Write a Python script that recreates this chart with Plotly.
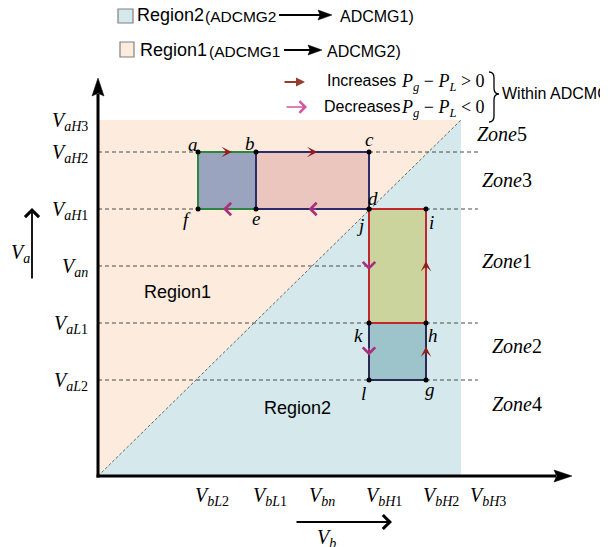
import math
import plotly.graph_objects as go

# ---------------- data ----------------
vb_names = ["bL2", "bL1", "bn", "bH1", "bH2", "bH3"]
vb_values = [100, 158, 214, 271, 328, 363]
va_names = ["aL2", "aL1", "an", "aH1", "aH2", "aH3"]
va_values = [96, 153, 210, 267, 324, 356]

point_names = ["a", "b", "c", "d", "e", "f", "i", "j", "k", "h", "g", "l"]
point_vb = ["bL2", "bL1", "bH1", "bH1", "bL1", "bL2", "bH2", "bH1", "bH1", "bH2", "bH2", "bH1"]
point_va = ["aH2", "aH2", "aH2", "aH1", "aH1", "aH1", "aH1", "aH1", "aL1", "aL1", "aL2", "aL2"]

rect_vertices = [["a", "b", "e", "f"], ["b", "c", "d", "e"], ["k", "h", "g", "l"], ["j", "i", "h", "k"]]
rect_fill = ["#9BA4BE", "#EBC6BE", "#9DC4CA", "#CAD49C"]
rect_edge = ["#2E8540", "#2B2C6B", "#2B2A55", "#C1272D"]

edge_arrows = [("a", "b", "inc"), ("b", "c", "inc"), ("e", "f", "dec"), ("d", "e", "dec"),
               ("j", "k", "dec"), ("h", "i", "inc"), ("k", "l", "dec"), ("g", "h", "inc")]

hline_segments = [("aH2", None, "bL2"), ("aH2", "bH1", "end"), ("aH1", None, "bL2"),
                  ("aH1", "bH2", "end"), ("an", None, "bH1"), ("aL1", None, "bH1"),
                  ("aL1", "bH2", "end"), ("aL2", None, "bH1"), ("aL2", "bH2", "end")]

zone_names = ["Zone5", "Zone3", "Zone1", "Zone2", "Zone4"]

# ---------------- helpers ----------------
VB = dict(zip(vb_names, vb_values))
VA = dict(zip(va_names, va_values))
PT = {n: (VB[b], VA[a]) for n, b, a in zip(point_names, point_vb, point_va)}

W, H = 608, 547
OFF = 8                   # page body margin in the browser
X0, Y0 = 98, 476          # window position of the origin


def px(x):
    return x - X0


def py(y):
    return Y0 - y


SERIF = "Liberation Serif"
SANS = "Liberation Sans"
PEACH = "#FDEBDD"
LBLUE = "#D5E8EC"
RED = "#931E1E"
MAG = "#A8307E"

fig = go.Figure()

vbmax, vamax = VB["bH3"], VA["aH3"]
fig.add_trace(go.Scatter(x=[0, 0, vbmax, 0], y=[0, vamax, vamax, 0], fill="toself",
                         fillcolor=PEACH, line=dict(width=0), mode="lines", hoverinfo="skip"))
fig.add_trace(go.Scatter(x=[0, vbmax, vbmax, 0], y=[0, 0, vamax, 0], fill="toself",
                         fillcolor=LBLUE, line=dict(width=0), mode="lines", hoverinfo="skip"))
fig.add_trace(go.Scatter(x=[0, vbmax], y=[0, vamax], mode="lines",
                         line=dict(color="#666", width=1, dash="3px,2px"), hoverinfo="skip"))

xs, ys = [], []
dash_end = vbmax + 17
for lev, s, e in hline_segments:
    xs += [0 if s is None else VB[s], dash_end if e == "end" else VB[e], None]
    ys += [VA[lev], VA[lev], None]
fig.add_trace(go.Scatter(x=xs, y=ys, mode="lines",
                         line=dict(color="#4A4A4A", width=1, dash="4px,3px"), hoverinfo="skip"))

for verts, fc in zip(rect_vertices, rect_fill):
    fig.add_trace(go.Scatter(x=[PT[v][0] for v in verts] + [PT[verts[0]][0]],
                             y=[PT[v][1] for v in verts] + [PT[verts[0]][1]],
                             fill="toself", fillcolor=fc, mode="lines",
                             line=dict(width=0), hoverinfo="skip"))
for verts, ec in zip(rect_vertices, rect_edge):
    fig.add_trace(go.Scatter(x=[PT[v][0] for v in verts] + [PT[verts[0]][0]],
                             y=[PT[v][1] for v in verts] + [PT[verts[0]][1]],
                             mode="lines", line=dict(color=ec, width=2), hoverinfo="skip"))

fig.add_trace(go.Scatter(x=[PT[n][0] for n in point_names], y=[PT[n][1] for n in point_names],
                         mode="markers", marker=dict(color="black", size=5), hoverinfo="skip"))

shapes = []
annotations = []


def black_arrow(x0, y0, x1, y1, hl, hw, lw):
    dx, dy = x1 - x0, y1 - y0
    L = math.hypot(dx, dy)
    ux, uy = dx / L, dy / L
    bx, by = x1 - ux * hl, y1 - uy * hl
    nx, ny = -uy, ux
    shapes.append(dict(type="line", xref="x", yref="y", x0=x0, y0=y0,
                       x1=bx + ux * 2, y1=by + uy * 2, line=dict(color="black", width=lw)))
    path = (f"M{x1},{y1} L{bx + nx * hw},{by + ny * hw} L{bx + ux * hl * 0.15},{by + uy * hl * 0.15} "
            f"L{bx - nx * hw},{by - ny * hw} Z")
    shapes.append(dict(type="path", xref="x", yref="y", path=path, fillcolor="black",
                       line=dict(color="black", width=0.5)))


# axes
black_arrow(-1.5, 0, px(572), 0, 18, 6, 3)
black_arrow(0, -1.5, 0, py(78), 18, 6, 3)

# legend
shapes.append(dict(type="rect", xref="x", yref="y", x0=px(118), x1=px(133), y0=py(9), y1=py(23),
                   fillcolor=LBLUE, line=dict(color="#808080", width=1.2)))
shapes.append(dict(type="rect", xref="x", yref="y", x0=px(120), x1=px(134), y0=py(42), y1=py(57),
                   fillcolor=PEACH, line=dict(color="#808080", width=1.2)))
black_arrow(px(279), py(15), px(332), py(15), 14, 5, 2)
black_arrow(px(284), py(50), px(322), py(50), 14, 5, 2)

# curly brace "}" grouping the two legend rows
bx0, bxm, bxc = px(489), px(494), px(499)
shapes.append(dict(type="path", xref="x", yref="y", line=dict(color="black", width=1.3),
                   path=(f"M{bx0},{py(72)} Q{bxm},{py(72)} {bxm},{py(78)} L{bxm},{py(88)} "
                         f"Q{bxm},{py(94)} {bxc},{py(94)} Q{bxm},{py(94)} {bxm},{py(100)} "
                         f"L{bxm},{py(116)} Q{bxm},{py(122)} {bx0},{py(122)}")))


def txt(x, y, text, size, family, xanchor="center", color="black", yanchor="middle", **kw):
    annotations.append(dict(x=x, y=y, xref="x", yref="y", text=text, showarrow=False,
                            xanchor=xanchor, yanchor=yanchor,
                            font=dict(size=size, family=family, color=color), **kw))


txt(px(135), py(15), "Region2", 18, SANS, "left")
txt(px(203), py(16), "(ADCMG2", 15.5, SANS, "left")
txt(px(338), py(16), "ADCMG1)", 16, SANS, "left")
txt(px(138), py(50), "Region1", 18, SANS, "left")
txt(px(207), py(51), "(ADCMG1", 15.5, SANS, "left")
txt(px(325), py(51), "ADCMG2)", 16, SANS, "left")

annotations.append(dict(x=px(305), y=py(82), xref="x", yref="y", ax=-22, ay=0, text="",
                        showarrow=True, arrowhead=2, arrowsize=0.9, arrowwidth=2,
                        arrowcolor="#993A30", standoff=0))
annotations.append(dict(x=px(307), y=py(107), xref="x", yref="y", ax=-22, ay=0, text="",
                        showarrow=True, arrowhead=4, arrowsize=1.6, arrowwidth=1.4,
                        arrowcolor="#D4559F", standoff=0))
txt(px(325), py(80), "Increases", 16, SANS, "left")
txt(px(322), py(106), "Decreases", 16, SANS, "left")
txt(px(399), py(82), "<i>P</i><sub><i>g</i></sub> − <i>P</i><sub><i>L</i></sub> &gt; 0", 18, SERIF, "left")
txt(px(399), py(108), "<i>P</i><sub><i>g</i></sub> − <i>P</i><sub><i>L</i></sub> &lt; 0", 18, SERIF, "left")
txt(px(500), py(93), "Within ADCMG", 16, SANS, "left")


def vlabel(sub):
    letters = "".join(c for c in sub if not c.isdigit())
    digits = "".join(c for c in sub if c.isdigit())
    return f"<i>V</i><sub><i>{letters}</i>{digits}</sub>"


# tick labels
for n, v in zip(va_names, va_values):
    txt(-8, v - 1, vlabel(n), 20, SERIF, "right")
for n, v in zip(vb_names, vb_values):
    shift = 7 if n == "bH3" else -5
    txt(v + shift, py(496), vlabel(n), 20, SERIF, "left")

# axis name arrows
annotations.append(dict(x=px(32), y=py(208), xref="x", yref="y", ax=0, ay=72, text="",
                        showarrow=True, arrowhead=4, arrowsize=1.5, arrowwidth=1.8,
                        arrowcolor="black", standoff=0))
annotations.append(dict(x=px(392), y=py(522), xref="x", yref="y", ax=-97, ay=0, text="",
                        showarrow=True, arrowhead=4, arrowsize=1.5, arrowwidth=1.8,
                        arrowcolor="black", standoff=0))
txt(px(20), py(253), "<i>V</i><sub><i>a</i></sub>", 20, SERIF, "center")
txt(px(326), py(538), "<i>V</i><sub><i>b</i></sub>", 20, SERIF, "center")

# zones
zone_pos = [(475, 134), (480, 180), (480, 261), (490, 346), (490, 404)]
for z, (zx, zy) in zip(zone_names, zone_pos):
    txt(px(zx), py(zy), f"<i>{z[:4]}</i>{z[4:]}", 20, SERIF, "left")

# region labels
txt(px(177), py(292), "Region1", 18, SANS)
txt(px(297), py(408), "Region2", 18, SANS)

# point labels (pixel offsets)
label_off = {"a": (-5, -8), "b": (-6, -9), "c": (0, -13), "d": (4, -11), "e": (0, 9),
             "f": (-11, 10), "i": (5, 13), "j": (-9, 16), "k": (-11, 12), "h": (7, 12),
             "l": (-6, 13), "g": (4, 9)}
for n in point_names:
    ox, oy = label_off[n]
    txt(PT[n][0], PT[n][1], f"<i>{n}</i>", 19, SERIF, "center", xshift=ox, yshift=-oy)

# edge arrows
for p, q, kind in edge_arrows:
    (x0, y0), (x1, y1) = PT[p], PT[q]
    L = math.hypot(x1 - x0, y1 - y0)
    ux, uy = (x1 - x0) / L, (y1 - y0) / L
    mx, my = (x0 + x1) / 2, (y0 + y1) / 2
    tip = 5 if kind == "inc" else 4
    annotations.append(dict(x=mx + ux * tip, y=my + uy * tip, xref="x", yref="y",
                            ax=-ux * 9, ay=uy * 9, text="", showarrow=True,
                            arrowhead=3 if kind == "inc" else 4,
                            arrowsize=1.1 if kind == "inc" else 1.5,
                            arrowwidth=1.6,
                            arrowcolor=RED if kind == "inc" else MAG, standoff=0))

fig.update_layout(
    width=W, height=H, autosize=False,
    margin=dict(l=0, r=0, t=0, b=0, pad=0),
    paper_bgcolor="white", plot_bgcolor="white",
    showlegend=False,
    xaxis=dict(range=[px(OFF), px(OFF + W)], visible=False, fixedrange=True),
    yaxis=dict(range=[py(OFF + H), py(OFF)], visible=False, fixedrange=True),
    shapes=shapes, annotations=annotations,
)

fig.write_html("out.html")
